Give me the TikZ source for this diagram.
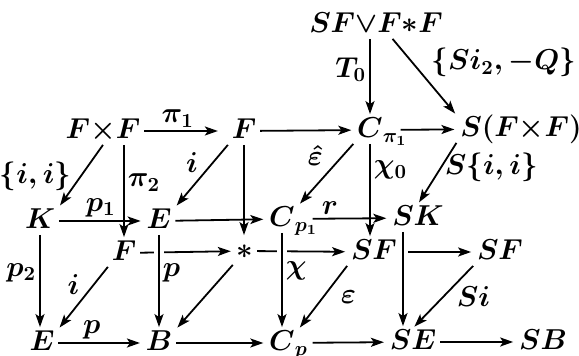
\documentclass[tikz,border=0pt]{standalone}
\usetikzlibrary{arrows.meta}
\begin{document}
\begin{tikzpicture}[x=0.5pt, y=-0.5pt, font=\fontsize{13.8}{16}\selectfont\boldmath, line width=0.9pt, line join=round,
	>={Stealth[length=6.5pt,width=4.5pt,inset=1.5pt]}, shorten >=1pt,
	every node/.style={inner sep=1.5pt},
	obj/.style={text height=0.9em, text depth=0.1em},
	over/.style={preaction={draw, white, line width=5pt, -}},
	pastsub/.style={shorten <=7pt}]
	\useasboundingbox (0,0) rectangle (579,356);
	\node[obj] (SFv) at (376,25) {$SF{\vee}F{\ast}F$};
	\node[obj] (FxF) at (103,131) {$F{\times}F$};
	\node[obj] (F1) at (244,131) {$F$};
	\node[obj] (Cpi) at (370,130) {$C\rlap{$_{\pi_1}$}$};
	\node[obj] (SFF) at (521,129) {$S(F{\times}F)$};
	\node[obj] (K) at (40,221) {$K$};
	\node[obj] (E1) at (159,221) {$E$};
	\node[obj] (Cp1) at (282,219) {$C\rlap{$_{p_1}$}$};
	\node[obj] (SK) at (418,218) {$SK$};
	\node[obj] (F2) at (124,253) {$F$};
	\node[obj] (star) at (245,251) {$\ast$};
	\node[obj] (SF1) at (374,252) {$SF$};
	\node[obj] (SF2) at (500,252) {$SF$};
	\node[obj] (E2) at (42,343) {$E$};
	\node[obj] (B) at (159,343) {$B$};
	\node[obj] (Cp) at (282,343) {$C\rlap{$_p$}$};
	\node[obj] (SE) at (413,342) {$SE$};
	\node[obj] (SB) at (543,342) {$SB$};
	\draw[->] (F2) -- (star);
	\draw[->] (star) -- (SF1);
	\draw[->] (SF1) -- (SF2);
	\draw[->, over] (E1) -- (B) node[right, pos=0.4] {$p$};
	\draw[->, over] (Cp1) -- (Cp) node[right, pos=0.4] {$\chi$};
	\draw[->, over] ([xshift=-7.5pt]SK.south) -- ([xshift=-5pt]SE.north);
	\draw[->] (SFv.south -| Cpi) -- (Cpi) node[left, pos=0.4] {$T_0$};
	\draw[->] (SFv.-40) -- (SFF.north west) node[above right, pos=0.55] {$\{Si_2, -Q\}$};
	\draw[->, shorten >=5pt] (FxF) -- (F1) node[above, pos=0.4] {$\pi_1$};
	\draw[->] (F1) -- (Cpi);
	\draw[->, pastsub] (Cpi) -- (SFF);
	\draw[->] (FxF.south) -- (K.north east) node[left, midway, xshift=-3pt] {$\{i, i\}$};
	\draw[->] (F2 |- FxF.south) -- (F2) node[right, pos=0.4] {$\pi_2$};
	\draw[->] (F1.south west) -- (E1.north east) node[above left, midway] {$i$};
	\draw[->] (F1) -- (F1 |- star.north);
	\draw[->] (Cpi.south west) -- (Cp1.north east) node[above left=1pt, pos=0.45] {$\hat{\varepsilon}$};
	\draw[->] (Cpi) -- (Cpi |- SF1.north) node[right, pos=0.28] {$\chi_0$};
	\draw[->] (SFF.south west) -- (SK.north) node[right, pos=0.4] {$S\{i, i\}$};
	\draw[->] (K) -- (E1) node[above, midway] {$p_1$};
	\draw[->] (E1) -- (Cp1);
	\draw[->, pastsub] (Cp1) -- (SK) node[above, pos=0.35] {$r$};
	\draw[->] (K) -- (K |- E2.north) node[left, pos=0.4] {$p_2$};
	\draw[->] (F2.south west) -- (E2.north east) node[above left, midway] {$i$};
	\draw[->] (star.south west) -- (B.north east);
	\draw[->] (SF1.south west) -- (Cp.north east) node[right=7pt, midway] {$\varepsilon$};
	\draw[->] (SF2.south west) -- (SE.north) node[right=5pt, midway] {$Si$};
	\draw[->] (E2) -- (B) node[above, pos=0.4] {$p$};
	\draw[->] (B) -- (Cp);
	\draw[->, pastsub] (Cp) -- (SE);
	\draw[->] (SE) -- (SB);
\end{tikzpicture}
\end{document}
